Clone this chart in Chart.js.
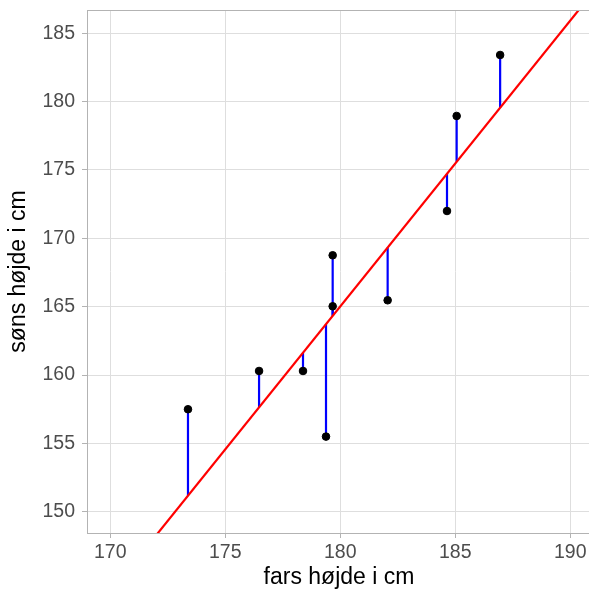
<!DOCTYPE html>
<html>
<head>
<meta charset="utf-8">
<script src="https://cdn.jsdelivr.net/npm/chart.js@4.4.1/dist/chart.umd.min.js"></script>
<style>
    html, body { margin: 0; padding: 0; background: #fff; overflow: hidden; }
    #wrap { position: relative; width: 591px; height: 593px; }
</style>
</head>
<body>
<div id="wrap"><canvas id="chart" width="591" height="593"></canvas></div>
<script>
// fathers' and sons' heights (cm)
const farsHojde = [173.38, 176.47, 178.38, 179.38, 179.67, 179.67, 182.06, 184.64, 185.06, 186.95];
const sonsHojde = [157.5, 160.3, 160.3, 155.5, 168.76, 165.03, 165.47, 172.0, 178.95, 183.41];

// fitted regression line: y = intercept + slope * x
const intercept = -211.36;
const slope = 2.091;

const xTicks = [170, 175, 180, 185, 190];
const yTicks = [150, 155, 160, 165, 170, 175, 180, 185];

const xMin = 168.99, xMax = 190.9;
const yMin = 148.45, yMax = 186.70;

const fit = x => intercept + slope * x;

const points = farsHojde.map((x, i) => ({x: x, y: sonsHojde[i]}));

// one short vertical segment per observation, from point to the line
const residuals = farsHojde.map((x, i) => ({
    type: 'line',
    data: [{x: x, y: sonsHojde[i]}, {x: x, y: fit(x)}],
    borderColor: '#0000ff',
    borderWidth: 2.2,
    pointRadius: 0,
    order: 3
}));

const tickFont = {family: "'Liberation Sans', Arial, sans-serif", size: 19.5};
const titleFont = {family: "'Liberation Sans', Arial, sans-serif", size: 23};

// keep the plot area fixed: no extra room for overhanging labels
function fixScale(scale, size) {
    if (scale.isHorizontal()) scale.height = size;
    else scale.width = size;
    scale.paddingTop = 0;
    scale.paddingBottom = 0;
    scale.paddingLeft = 0;
    scale.paddingRight = 0;
}

// panel border on all four sides
const panelBorder = {
    id: 'panelBorder',
    afterDraw(chart) {
        const {ctx, chartArea} = chart;
        ctx.save();
        ctx.strokeStyle = '#b3b3b3';
        ctx.lineWidth = 1;
        ctx.strokeRect(Math.round(chartArea.left) + 0.5, Math.round(chartArea.top) + 0.5,
            Math.round(chartArea.right - chartArea.left) - 1, Math.round(chartArea.bottom - chartArea.top));
        ctx.restore();
    }
};

const config = {
    type: 'scatter',
    data: {
        datasets: [
            {
                data: points,
                backgroundColor: '#000',
                borderColor: '#000',
                pointRadius: 3.8,
                pointHoverRadius: 3.8,
                order: 1
            },
            {
                type: 'line',
                data: [{x: xMin, y: fit(xMin)}, {x: xMax, y: fit(xMax)}],
                borderColor: '#ff0000',
                borderWidth: 2.2,
                pointRadius: 0,
                order: 2
            },
            ...residuals
        ]
    },
    options: {
        responsive: false,
        animation: false,
        devicePixelRatio: 1,
        layout: {autoPadding: false, padding: {top: 10, left: 0, right: 0, bottom: 0}},
        scales: {
            x: {
                type: 'linear',
                min: xMin,
                max: xMax,
                afterBuildTicks: scale => { scale.ticks = xTicks.map(v => ({value: v})); },
                afterFit: scale => fixScale(scale, 60),
                grid: {color: '#dedede', tickColor: '#b3b3b3', tickLength: 5},
                border: {display: true, color: '#b3b3b3'},
                ticks: {font: tickFont, color: '#4d4d4d', padding: 3, maxRotation: 0},
                title: {display: true, text: 'fars højde i cm', font: titleFont, color: '#000',
                    padding: {top: 0, bottom: 2}}
            },
            y: {
                type: 'linear',
                min: yMin,
                max: yMax,
                afterBuildTicks: scale => { scale.ticks = yTicks.map(v => ({value: v})); },
                afterFit: scale => fixScale(scale, 87),
                grid: {color: '#dedede', tickColor: '#b3b3b3', tickLength: 5},
                border: {display: true, color: '#b3b3b3'},
                ticks: {font: tickFont, color: '#4d4d4d', padding: 7},
                title: {display: true, text: 'søns højde i cm', font: titleFont, color: '#000',
                    padding: {top: 5, bottom: 0}}
            }
        },
        plugins: {
            legend: {display: false},
            tooltip: {enabled: false}
        }
    },
    plugins: [panelBorder]
};

new Chart(document.getElementById('chart'), config);
</script>
</body>
</html>
